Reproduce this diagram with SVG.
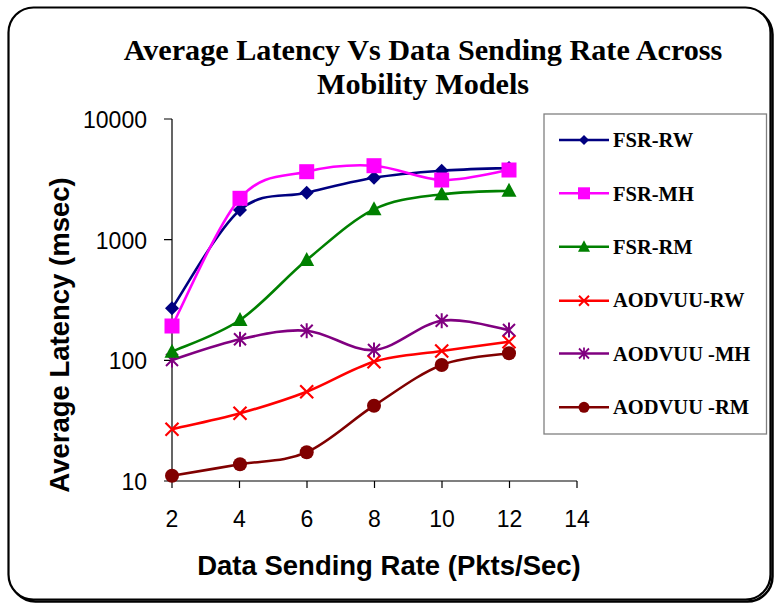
<svg xmlns="http://www.w3.org/2000/svg" width="775" height="605" viewBox="0 0 775 605">
  <defs>
    <style>
      .frame { fill: #ffffff; stroke: #000000; stroke-width: 2.2; }
      .shadow { fill: none; stroke: #000000; stroke-width: 2.5; }
      .axis { stroke: #000000; stroke-width: 1.2; fill: none; }
      .tick { font-family: "Liberation Sans", Arial, sans-serif; font-size: 23px; fill: #000000; }
      .ytick { text-anchor: end; }
      .xtick { text-anchor: middle; }
      .axtitle { font-family: "Liberation Sans", Arial, sans-serif; font-size: 27.5px; font-weight: bold; fill: #000000; text-anchor: middle; }
      .title { font-family: "Liberation Serif", "Times New Roman", serif; font-size: 30.2px; font-weight: bold; fill: #000000; text-anchor: middle; }
      .legtext { font-family: "Liberation Serif", "Times New Roman", serif; font-size: 20.5px; font-weight: bold; fill: #000000; stroke: none; }
      .series { fill: none; stroke-width: 2.6; stroke-linejoin: round; }
      .legline { stroke-width: 2.6; }
      .rw { stroke: #000080; fill: #000080; }
      .mh { stroke: #ff00ff; fill: #ff00ff; }
      .rm { stroke: #008000; fill: #008000; }
      .arw { stroke: #ff0000; fill: none; }
      .amh { stroke: #800080; fill: none; }
      .arm { stroke: #800000; fill: #800000; }
    </style>
    <!-- plot markers -->
    <path id="mDiamond" d="M0,-7 L7,0 L0,7 L-7,0 Z" stroke="none"/>
    <rect id="mSquare" x="-7.5" y="-7.5" width="15" height="15" stroke="none"/>
    <path id="mTriangle" d="M0,-8 L7.5,6 L-7.5,6 Z" stroke="none"/>
    <path id="mCross" d="M-6.5,-6.5 L6.5,6.5 M-6.5,6.5 L6.5,-6.5" stroke-width="2.2" fill="none"/>
    <path id="mStar" d="M-6,-6 L6,6 M-6,6 L6,-6 M0,-7.5 L0,7.5" stroke-width="2" fill="none"/>
    <circle id="mCircle" r="7" stroke="none"/>
    <!-- legend markers (smaller) -->
    <path id="lDiamond" d="M0,-5 L5,0 L0,5 L-5,0 Z" stroke="none"/>
    <rect id="lSquare" x="-6" y="-6" width="12" height="12" stroke="none"/>
    <path id="lTriangle" d="M0,-6.5 L6,5 L-6,5 Z" stroke="none"/>
    <path id="lCross" d="M-5,-5 L5,5 M-5,5 L5,-5" stroke-width="2" fill="none"/>
    <path id="lStar" d="M-5,-5 L5,5 M-5,5 L5,-5 M0,-6 L0,6" stroke-width="1.8" fill="none"/>
    <circle id="lCircle" r="5.5" stroke="none"/>
  </defs>

  <rect width="775" height="605" fill="#ffffff"/>

  <!-- chart frame with drop shadow -->
  <g id="frame">
    <rect class="shadow" x="10.5" y="9.5" width="762" height="592" rx="25" ry="25"/>
    <rect class="frame" x="8.5" y="7.5" width="762" height="592" rx="25" ry="25"/>
  </g>

  <!-- title -->
  <g id="title">
    <text class="title" x="423" y="60">Average Latency Vs Data Sending Rate Across</text>
    <text class="title" x="423" y="94">Mobility Models</text>
  </g>

  <!-- axes -->
  <g id="axes">
    <path class="axis" d="M172,119 L172,481 L577,481"/>
    <path class="axis" d="M164,119 H172 M164,239.7 H172 M164,360.3 H172 M164,481 H172"/>
    <path class="axis" d="M172,481 V488 M239.5,481 V488 M307,481 V488 M374.5,481 V488 M442,481 V488 M509.5,481 V488 M577,481 V488"/>
    <text class="tick ytick" x="147" y="128">10000</text>
    <text class="tick ytick" x="147" y="248.5">1000</text>
    <text class="tick ytick" x="147" y="369">100</text>
    <text class="tick ytick" x="147" y="490">10</text>
    <text class="tick xtick" x="172" y="527">2</text>
    <text class="tick xtick" x="239.5" y="527">4</text>
    <text class="tick xtick" x="307" y="527">6</text>
    <text class="tick xtick" x="374.5" y="527">8</text>
    <text class="tick xtick" x="442" y="527">10</text>
    <text class="tick xtick" x="509.5" y="527">12</text>
    <text class="tick xtick" x="577" y="527">14</text>
    <text class="axtitle" x="389" y="575">Data Sending Rate (Pkts/Sec)</text>
    <text class="axtitle" transform="translate(68.5,335) rotate(-90)">Average Latency (msec)</text>
  </g>

  <!-- data series (smoothed lines) -->
  <g id="connectors">
    <path id="line-aodvuu-rm" class="series arm" d="M172,475.7 C183.3,473.8 217.55,468.2 240,464.3 C262.45,460.4 284.4,462.07 306.7,452.3 C329,442.5 351.5,420.25 374,405.7 C396.5,391.15 419.2,373.7 441.7,365 C464.2,356.3 497.8,355.25 509,353.3" style="fill:none"/>
    <path id="line-aodvuu-rw" class="series arw" d="M172,429.3 C183.3,426.6 217.55,419.6 240,413.3 C262.45,407 284.4,400.3 306.7,391.7 C329,383.1 351.5,368.5 374,361.7 C396.5,354.9 419.2,354.3 441.7,351 C464.2,347.7 497.8,343.25 509,341.7"/>
    <path id="line-aodvuu-mh" class="series amh" d="M172,360 C183.3,356.55 217.55,344.2 240,339.3 C262.45,334.4 284.4,328.9 306.7,330.7 C329,332.5 351.5,351.7 374,350 C396.5,348.3 419.2,324 441.7,320.7 C464.2,317.4 497.8,328.45 509,330"/>
    <path id="line-fsr-rm" class="series rm" d="M172,351.7 C183.3,346.4 217.55,335.3 240,320 C262.45,304.7 284.4,278.45 306.7,260 C329,241.55 351.5,220.25 374,209.3 C396.5,198.35 419.2,197.4 441.7,194.3 C464.2,191.2 497.8,191.3 509,190.7" style="fill:none"/>
    <path id="line-fsr-rw" class="series rw" d="M172,308.3 C183.3,291.9 217.55,229.3 240,210 C262.45,190.73 284.4,198.1 306.7,192.7 C329,187.3 351.5,181.4 374,177.7 C396.5,174 419.2,172.3 441.7,170.7 C464.2,169.1 497.8,168.45 509,168" style="fill:none"/>
    <path id="line-fsr-mh" class="series mh" d="M172,326 C183.3,304.7 217.55,224 240,198.3 C262.45,172.6 284.4,177.1 306.7,171.7 C329,166.3 351.5,164.3 374,165.7 C396.5,167.1 419.2,179.3 441.7,180 C464.2,180.7 497.8,171.7 509,170" style="fill:none"/>
  </g>

  <!-- data point markers -->
  <g id="points-aodvuu-rm" class="arm">
    <use href="#mCircle" x="172" y="475.7"/><use href="#mCircle" x="240" y="464.3"/><use href="#mCircle" x="306.7" y="452.3"/>
    <use href="#mCircle" x="374" y="405.7"/><use href="#mCircle" x="441.7" y="365"/><use href="#mCircle" x="509" y="353.3"/>
  </g>
  <g id="points-aodvuu-rw" class="arw">
    <use href="#mCross" x="172" y="429.3"/><use href="#mCross" x="240" y="413.3"/><use href="#mCross" x="306.7" y="391.7"/>
    <use href="#mCross" x="374" y="361.7"/><use href="#mCross" x="441.7" y="351"/><use href="#mCross" x="509" y="341.7"/>
  </g>
  <g id="points-aodvuu-mh" class="amh">
    <use href="#mStar" x="172" y="360"/><use href="#mStar" x="240" y="339.3"/><use href="#mStar" x="306.7" y="330.7"/>
    <use href="#mStar" x="374" y="350"/><use href="#mStar" x="441.7" y="320.7"/><use href="#mStar" x="509" y="330"/>
  </g>
  <g id="points-fsr-rm" class="rm">
    <use href="#mTriangle" x="172" y="351.7"/><use href="#mTriangle" x="240" y="320"/><use href="#mTriangle" x="306.7" y="260"/>
    <use href="#mTriangle" x="374" y="209.3"/><use href="#mTriangle" x="441.7" y="194.3"/><use href="#mTriangle" x="509" y="190.7"/>
  </g>
  <g id="points-fsr-rw" class="rw">
    <use href="#mDiamond" x="172" y="308.3"/><use href="#mDiamond" x="240" y="210"/><use href="#mDiamond" x="306.7" y="192.7"/>
    <use href="#mDiamond" x="374" y="177.7"/><use href="#mDiamond" x="441.7" y="170.7"/><use href="#mDiamond" x="509" y="168"/>
  </g>
  <g id="points-fsr-mh" class="mh">
    <use href="#mSquare" x="172" y="326"/><use href="#mSquare" x="240" y="198.3"/><use href="#mSquare" x="306.7" y="171.7"/>
    <use href="#mSquare" x="374" y="165.7"/><use href="#mSquare" x="441.7" y="180"/><use href="#mSquare" x="509" y="170"/>
  </g>

  <!-- legend -->
  <g id="legend">
    <rect x="544" y="114" width="222.5" height="320" fill="#ffffff" stroke="#808080" stroke-width="1.3"/>
    <g id="legend-fsr-rw" class="rw">
      <line class="legline" x1="559" y1="140" x2="609" y2="140"/>
      <use href="#lDiamond" x="584" y="140"/>
      <text class="legtext" x="613" y="147.3">FSR-RW</text>
    </g>
    <g id="legend-fsr-mh" class="mh">
      <line class="legline" x1="559" y1="193.3" x2="609" y2="193.3"/>
      <use href="#lSquare" x="584" y="193.3"/>
      <text class="legtext" x="613" y="200.7">FSR-MH</text>
    </g>
    <g id="legend-fsr-rm" class="rm">
      <line class="legline" x1="559" y1="246.7" x2="609" y2="246.7"/>
      <use href="#lTriangle" x="584" y="246.7"/>
      <text class="legtext" x="613" y="254">FSR-RM</text>
    </g>
    <g id="legend-aodvuu-rw" class="arw">
      <line class="legline" x1="559" y1="300.7" x2="609" y2="300.7"/>
      <use href="#lCross" x="584" y="300.7"/>
      <text class="legtext" x="613" y="307">AODVUU-RW</text>
    </g>
    <g id="legend-aodvuu-mh" class="amh">
      <line class="legline" x1="559" y1="353.5" x2="609" y2="353.5"/>
      <use href="#lStar" x="584" y="353.5"/>
      <text class="legtext" x="613" y="360.7">AODVUU -MH</text>
    </g>
    <g id="legend-aodvuu-rm" class="arm">
      <line class="legline" x1="559" y1="407.3" x2="609" y2="407.3"/>
      <use href="#lCircle" x="584" y="407.3"/>
      <text class="legtext" x="613" y="414">AODVUU -RM</text>
    </g>
  </g>
</svg>
